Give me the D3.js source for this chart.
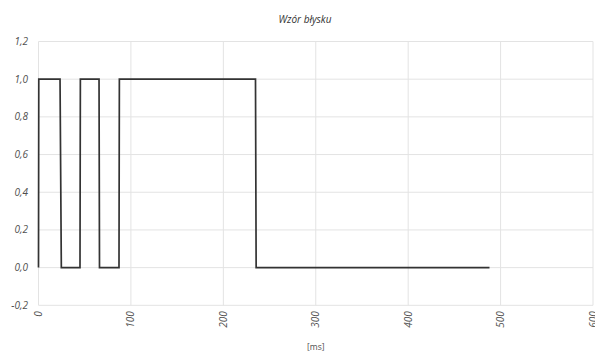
<!DOCTYPE html>
<html><head><meta charset="utf-8">
<script src="https://cdn.jsdelivr.net/npm/d3@7"></script>
<style>body{margin:0;background:#fff}svg{display:block}</style>
</head><body>
<svg id="c" width="595" height="354"></svg>
<script>
const timeMs = [0, 0.3, 10, 20, 23.3, 24.7, 35, 44.9, 45.3, 55, 65.5, 66.0, 75, 87.1, 87.5, 120, 160, 200, 234.8, 235.5, 300, 400, 488];
const level  = [0, 1.0, 1.0, 1.0, 1.0, 0, 0, 0, 1.0, 1.0, 1.0, 0, 0, 0, 1.0, 1.0, 1.0, 1.0, 1.0, 0, 0, 0, 0];
const xTicks = [0, 100, 200, 300, 400, 500, 600];
const yTicks = [-0.2, 0, 0.2, 0.4, 0.6, 0.8, 1.0, 1.2];
const title = "Wzór błysku";
const xTitle = "[ms]";

const svg = d3.select("#c");
const x = d3.scaleLinear().domain([0, 600]).range([38.5, 593]);
const y = d3.scaleLinear().domain([-0.2, 1.2]).range([305.3, 41.5]);
const font = "'Open Sans', 'Noto Sans', sans-serif";
const fmt = d => d3.format(".1f")(d).replace(".", ",").replace("−","-");

// gridlines
svg.append("g").selectAll("line").data(yTicks).join("line")
  .attr("x1", x(0)).attr("x2", x(600)).attr("y1", d => y(d)).attr("y2", d => y(d))
  .attr("stroke", "#e3e3e3").attr("stroke-width", 1);
svg.append("g").selectAll("line").data(xTicks).join("line")
  .attr("y1", y(-0.2)).attr("y2", y(1.2)).attr("x1", d => x(d)).attr("x2", d => x(d))
  .attr("stroke", "#e3e3e3").attr("stroke-width", 1);

// y labels
svg.append("g").selectAll("text").data(yTicks).join("text")
  .attr("x", 28).attr("y", d => y(d)).attr("dy", "0.35em")
  .attr("text-anchor", "end").attr("font-family", font).attr("font-style", "italic")
  .attr("font-size", 10).attr("fill", "#505050").text(fmt);

// x labels rotated
svg.append("g").selectAll("text").data(xTicks).join("text")
  .attr("transform", d => `translate(${x(d)},${y(-0.2) + 6}) rotate(-90)`)
  .attr("dy", "0.35em").attr("text-anchor", "end")
  .attr("font-family", font).attr("font-style", "italic")
  .attr("font-size", 10).attr("fill", "#505050").text(d => d);

// line
const line = d3.line().x((d, i) => x(timeMs[i])).y(d => y(d));
svg.append("path").datum(level).attr("d", line)
  .attr("fill", "none").attr("stroke", "#333").attr("stroke-width", 1.7)
  .attr("stroke-linejoin", "miter");

// titles
svg.append("text").attr("x", 305).attr("y", 23).attr("text-anchor", "middle")
  .attr("font-family", font).attr("font-style", "italic").attr("font-size", 10)
  .attr("fill", "#333").text(title);
svg.append("text").attr("x", x(300)).attr("y", 350).attr("text-anchor", "middle")
  .attr("font-family", font).attr("font-size", 8.5)
  .attr("fill", "#505050").text(xTitle);
</script>
</body></html>
